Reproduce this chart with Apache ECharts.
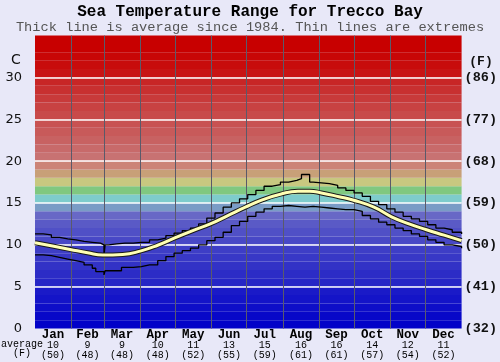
<!DOCTYPE html>
<html>
<head>
<meta charset="utf-8">
<script src="https://cdn.jsdelivr.net/npm/echarts@6/dist/echarts.min.js"></script>
<style>
html,body{margin:0;padding:0;background:#e8e8f8;}
#c{width:500px;height:362px;}
</style>
</head>
<body>
<div id="c"></div>
<script>
// ---- data ----
const months = ['Jan','Feb','Mar','Apr','May','Jun','Jul','Aug','Sep','Oct','Nov','Dec'];
const monthAvgC = ['10','9','9','10','11','13','15','16','16','14','12','11'];
const monthAvgF = ['(50)','(48)','(48)','(48)','(52)','(55)','(59)','(61)','(61)','(57)','(54)','(52)'];
const monthStartDays = [0,31,59,90,120,151,181,212,243,273,304,334,365];
const leftTicks = [0,5,10,15,20,25,30];
const rightTicks = ['(32)','(41)','(50)','(59)','(68)','(77)','(86)'];

const maxDays = [0,7,14,21,28,35,42,49,56,59,60,63,70,77,84,91,98,105,112,119,126,133,140,147,154,161,168,175,182,189,196,203,210,217,224,228,235,238,245,252,259,266,273,280,287,294,301,308,315,322,329,336,343,350,357,365];
const maxVals = [11.3,11.2,10.9,10.7,10.6,10.4,10.3,10.2,10.0,8.6,10.0,10.1,10.2,10.2,10.3,10.3,10.6,10.8,11.1,11.4,11.7,12.0,12.5,13.2,13.8,14.5,15.0,15.5,16.0,16.5,17.0,17.2,17.5,17.7,17.9,18.4,17.5,17.4,17.3,17.1,16.8,16.5,16.2,15.8,15.2,14.8,14.3,13.9,13.4,13.1,12.8,12.4,12.0,11.8,11.5,11.3];

const minDays = [0,7,14,21,28,35,42,49,52,59,60,74,84,91,98,105,112,119,126,133,140,147,154,161,168,175,182,189,196,203,210,217,224,231,238,245,252,259,266,273,280,287,294,301,308,315,322,329,336,343,350,357,365];
const minVals = [8.8,8.7,8.5,8.3,8.1,7.9,7.6,7.2,6.8,6.4,6.9,7.3,7.4,7.6,7.6,8.1,8.6,9.0,9.3,9.6,10.0,10.5,10.9,11.5,12.3,12.8,13.4,13.9,14.3,14.6,14.7,14.6,14.5,14.6,14.5,14.4,14.3,14.2,14.2,14.0,13.5,13.1,12.7,12.4,12.0,11.7,11.3,11.0,10.6,10.3,10.0,9.8,9.6];

const avgDays = [0,15,30,45,58,75,90,105,120,135,150,165,180,195,210,225,235,245,260,272,290,305,320,335,350,365];
const avgVals = [10.25,9.85,9.45,9.05,8.78,8.85,9.25,9.95,10.85,11.7,12.5,13.5,14.5,15.4,16.05,16.4,16.4,16.2,15.75,15.35,14.5,13.35,12.5,11.8,11.15,10.5];

// ---- styles ----
const bandColors = [
 '#0202c8','#0808c8','#0e0ec8','#1414c8','#1a1ac8',
 '#2626c6','#2c2cc6','#3232c6','#3838c6','#3e3ec6',
 '#4848c6','#5050c6','#5a5ac6','#6868c6',
 '#7a9cc6','#7ecccc','#80c880','#c8c880','#c8a078','#cc8478',
 '#c87272','#c86a6a','#c86262','#c85a5a','#c85252',
 '#c84a4a','#c84242','#c83a3a','#c83030','#c82626',
 '#c81414','#c80c0c','#c80606','#c80000','#c80000'
];
const mono = 'Liberation Mono';
const pairs = (xs, ys) => xs.map((x, i) => [x, ys[i]]);
const monthMids = months.map((m, i) => (monthStartDays[i] + monthStartDays[i + 1]) / 2);

const chart = echarts.init(document.getElementById('c'), null, {renderer: 'canvas'});
chart.setOption({
  animation: false,
  backgroundColor: '#e8e8f8',
  grid: {left: 35, top: 35.6, width: 427.5, height: 292.9},
  xAxis: {
    type: 'value', min: 0, max: 365,
    axisLine: {show: false}, axisTick: {show: false}, splitLine: {show: false},
    axisLabel: {
      customValues: monthMids,
      margin: 1,
      formatter: function (v) {
        const i = monthMids.indexOf(v);
        if (i < 0) return '';
        return '{m|' + months[i] + '}\n{n|' + monthAvgC[i] + '}\n{f|' + monthAvgF[i] + '}';
      },
      rich: {
        m: {fontFamily: mono, fontWeight: 'bold', fontSize: 12.5, color: '#000', lineHeight: 11},
        n: {fontFamily: mono, fontSize: 10, color: '#000', lineHeight: 9.5},
        f: {fontFamily: mono, fontSize: 10, color: '#000', lineHeight: 10}
      }
    }
  },
  yAxis: [{
    type: 'value', min: 0, max: 35, interval: 5,
    axisLine: {show: false}, axisTick: {show: false}, splitLine: {show: false},
    axisLabel: {
      margin: 13, fontFamily: 'DejaVu Sans', fontSize: 13, color: '#111',
      formatter: v => (leftTicks.indexOf(v) >= 0 ? String(v) : '')
    }
  }, {
    type: 'value', min: 0, max: 35, interval: 5, position: 'right',
    axisLine: {show: false}, axisTick: {show: false}, splitLine: {show: false},
    axisLabel: {
      margin: 3, fontFamily: mono, fontWeight: 'bold', fontSize: 13.5, color: '#111',
      formatter: v => (rightTicks[v / 5] || '')
    }
  }],
  graphic: [
    {type: 'text', left: 'center', top: 4, style: {text: 'Sea Temperature Range for Trecco Bay', font: 'bold 16px "Liberation Mono"', fill: '#000'}},
    {type: 'text', left: 'center', top: 20, style: {text: 'Thick line is average since 1984. Thin lines are extremes', font: '13.7px "Liberation Mono"', fill: '#555'}},
    {type: 'text', x: 16, y: 60, style: {text: 'C', font: '14px "DejaVu Sans"', fill: '#111', align: 'center', verticalAlign: 'middle'}},
    {type: 'text', x: 481, y: 62, style: {text: '(F)', font: 'bold 13px "Liberation Mono"', fill: '#111', align: 'center', verticalAlign: 'middle'}},
    {type: 'text', x: 22, y: 344, style: {text: 'average', font: '10px "Liberation Mono"', fill: '#000', align: 'center', verticalAlign: 'middle'}},
    {type: 'text', x: 22, y: 353, style: {text: '(F)', font: '10px "Liberation Mono"', fill: '#000', align: 'center', verticalAlign: 'middle'}}
  ],
  series: [
    {
      type: 'line', data: [], z: 1, silent: true,
      markArea: {
        silent: true,
        data: bandColors.map((c, i) => [{yAxis: i, itemStyle: {color: c}}, {yAxis: i + 1}])
      }
    },
    {
      type: 'line', data: [], z: 2, silent: true,
      markLine: {
        silent: true, symbol: 'none', label: {show: false},
        data: leftTicks.filter(v => v > 0).map(v => ({yAxis: v, lineStyle: {color: '#ffffff', width: 1.6, type: 'solid'}}))
          .concat(monthStartDays.slice(1, -1).map(d => ({xAxis: d, lineStyle: {color: '#5a5a6a', width: 1, type: 'solid'}})))
      }
    },
    {type: 'line', name: 'max', data: pairs(maxDays, maxVals), step: 'end', symbol: 'none', z: 5, lineStyle: {color: '#000', width: 1.3}},
    {type: 'line', name: 'min', data: pairs(minDays, minVals), step: 'end', symbol: 'none', z: 5, lineStyle: {color: '#000', width: 1.3}},
    {type: 'line', name: 'avgOutline', data: pairs(avgDays, avgVals), smooth: true, symbol: 'none', z: 6, lineStyle: {color: '#1a1a1a', width: 5}},
    {type: 'line', name: 'avg', data: pairs(avgDays, avgVals), smooth: true, symbol: 'none', z: 7, lineStyle: {color: '#ffffb4', width: 3}}
  ]
});
</script>
</body>
</html>
